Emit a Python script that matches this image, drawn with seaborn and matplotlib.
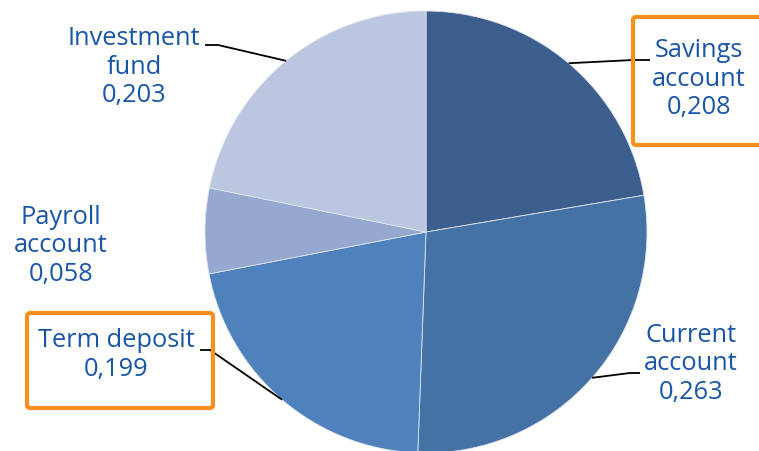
import numpy as np
import matplotlib
matplotlib.use("Agg")
import matplotlib.pyplot as plt
from matplotlib.patches import FancyBboxPatch
import seaborn as sns

# ---- data ----
categories = ["Savings\naccount", "Current\naccount", "Term deposit", "Payroll\naccount", "Investment\nfund"]
values = [0.208, 0.263, 0.199, 0.058, 0.203]
value_labels = ["0,208", "0,263", "0,199", "0,058", "0,203"]
highlighted = ["Savings\naccount", "Term deposit"]

colors = ["#3B5E8C", "#4472A5", "#4F81BD", "#95A8D0", "#BBC7E0"]
text_color = "#1855A8"
box_color = "#F7901E"

sns.set_theme(style="white")
plt.rcParams["font.family"] = ["Open Sans", "DejaVu Sans"]
palette = sns.color_palette(colors)

W, H = 759, 451
fig = plt.figure(figsize=(W / 100, H / 100), dpi=100)
ax = fig.add_axes([0, 0, 1, 1])

cx, cy, R = 426, 219, 221
wedges, _ = ax.pie(values, colors=palette, startangle=90, counterclock=False,
                   center=(cx, cy), radius=R, frame=True,
                   wedgeprops=dict(edgecolor="#DDE4F0", linewidth=0.6))
ax.set_xlim(0, W)
ax.set_ylim(0, H)
ax.axis("off")

# label layout (pixel coords, y from top) -- text centers and leader elbows
label_pos = [(699, 79), (691, 364), (116, 355), (61, 246), (134, 67)]
elbows = [[(633, 60), (650, 60)], [(630, 373), (640, 373)], [(210, 350), (200, 350)],
          None, [(218, 45), (205, 45)]]

for i, w in enumerate(wedges):
    x, y = label_pos[i]
    ax.text(x, H - y, f"{categories[i]}\n{value_labels[i]}", ha="center", va="center",
            color=text_color, fontsize=18.3, linespacing=1.21)
    if elbows[i] is not None:
        mid = np.deg2rad((w.theta1 + w.theta2) / 2)
        px, py = cx + R * np.cos(mid), cy + R * np.sin(mid)
        xs = [px] + [e[0] for e in elbows[i]]
        ys = [py] + [H - e[1] for e in elbows[i]]
        ax.plot(xs, ys, color="black", lw=1.3, solid_capstyle="butt")

# highlight boxes
boxes = {"Savings\naccount": (633, 17, 140, 128), "Term deposit": (27, 313, 186, 95)}
for name in highlighted:
    bx, by, bw, bh = boxes[name]
    ax.add_patch(FancyBboxPatch((bx, H - by - bh), bw, bh,
                                boxstyle="round,pad=0,rounding_size=3",
                                fill=False, edgecolor=box_color, linewidth=3.0, zorder=5))

fig.savefig("out.png", dpi=100)
